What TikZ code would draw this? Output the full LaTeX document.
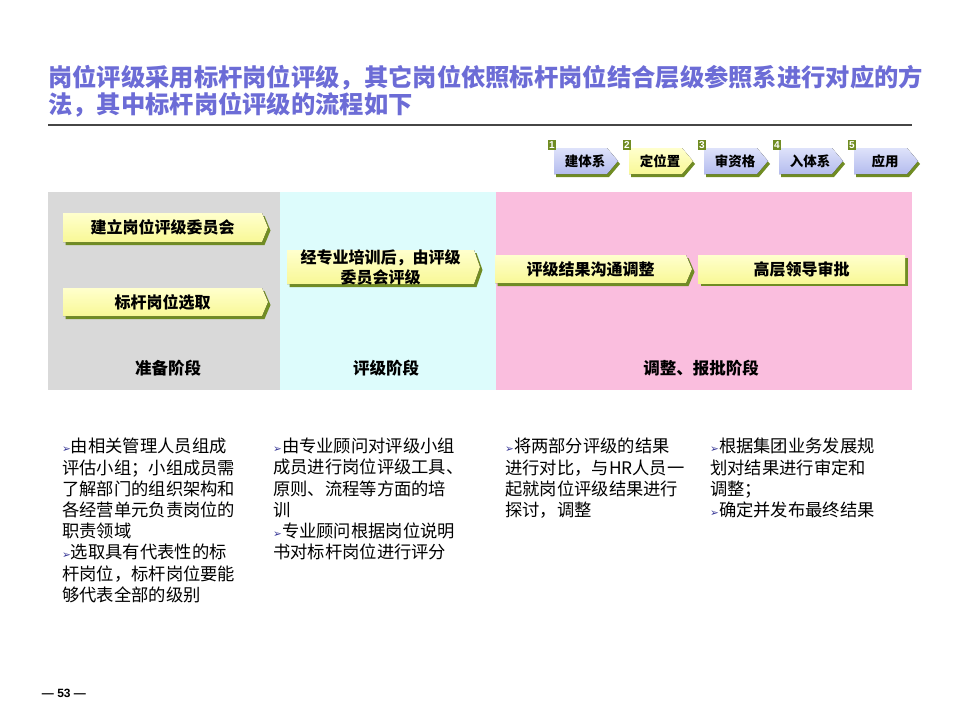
\documentclass[tikz,border=0pt]{standalone}
\usepackage{fontspec}
\setmainfont{Noto Sans CJK SC}
\newfontfamily\lat{Liberation Sans}
\newfontfamily\dv{DejaVu Sans}
\definecolor{titleblue}{RGB}{108,108,214}
\definecolor{rulegray}{RGB}{70,70,70}
\definecolor{pgray}{RGB}{217,217,217}
\definecolor{pcyan}{RGB}{221,252,252}
\definecolor{ppink}{RGB}{250,190,222}
\definecolor{boxy}{RGB}{248,248,150}
\definecolor{boxyl}{RGB}{255,255,205}
\definecolor{shgreen}{RGB}{112,140,35}
\definecolor{lav}{RGB}{180,188,238}
\definecolor{lavl}{RGB}{222,226,250}
\definecolor{bullc}{RGB}{55,55,150}
\newcommand\bul{{\textcolor{bullc}{\dv\fontsize{10.5}{10}\selectfont ➢}}}
\newcommand\tipbox[6]{%
  \begin{scope}[shift={(2.5,3)}]
    \fill[shgreen] (#2,#3) -- (#4-6,#3) -- (#4,{(#3+#5)/2}) -- (#4-6,#5) -- (#2,#5) -- cycle;
  \end{scope}
  \fill[ybox] (#2,#3) -- (#4-6,#3) -- (#4,{(#3+#5)/2}) -- (#4-6,#5) -- (#2,#5) -- cycle;
  \node[boxtxt] (#1) at ({(#2+#4)/2-3},{(#3+#5)/2}) {#6};
}
\newcommand\flatbox[6]{%
  \begin{scope}[shift={(2.5,3)}]
    \fill[shgreen] (#2,#3) rectangle (#4,#5);
  \end{scope}
  \fill[ybox] (#2,#3) rectangle (#4,#5);
  \node[boxtxt] (#1) at ({(#2+#4)/2},{(#3+#5)/2}) {#6};
}
\newcommand\stepchev[5]{% name, x0, digit, text, fill style
  \begin{scope}[shift={(2,3)}]
    \fill[shgreen] (#2,148) -- (#2+53,148) -- (#2+64,161) -- (#2+53,174) -- (#2,174) -- cycle;
  \end{scope}
  \fill[#5] (#2,148) -- (#2+53,148) -- (#2+64,161) -- (#2+53,174) -- (#2,174) -- cycle;
  \node[steptxt] (#1) at (#2+31,161) {#4};
  \node[numbox] (#1n) at (#2-2,145) {#3};
}
\tikzset{
  ttl/.style={anchor=north west, inner sep=0, align=left, text=titleblue,
    font=\bfseries\fontsize{24.3}{27.5}\selectfont},
  boxtxt/.style={inner sep=0, align=center, font=\bfseries\fontsize{16}{20}\selectfont},
  steptxt/.style={inner sep=0, font=\bfseries\fontsize{13.5}{15}\selectfont},
  stagetxt/.style={inner sep=0, font=\bfseries\fontsize{16.5}{18}\selectfont},
  body/.style={anchor=north west, inner sep=0, align=left,
    font=\fontsize{17.3}{21.2}\selectfont},
  numbox/.style={fill=shgreen, text=white, inner sep=0pt, minimum width=8.5pt,
    minimum height=10.5pt, font=\lat\bfseries\fontsize{10}{10}\selectfont},
  ybox/.style={top color=boxyl, bottom color=boxy},
  lavbox/.style={top color=lavl, bottom color=lav},
}
\begin{document}
\begin{tikzpicture}[x=1pt,y=-1pt]
\useasboundingbox (0,0) rectangle (960,720);
\fill[white] (0,0) rectangle (960,720);
% title
\node[ttl] (title) at (48,65) {岗位评级采用标杆岗位评级，其它岗位依照标杆岗位结合层级参照系进行对应的方\\法，其中标杆岗位评级的流程如下};
\draw[line width=1.3pt, rulegray] (48,125) -- (912,125);
% steps
\stepchev{s1}{554}{1}{建体系}{lavbox}
\stepchev{s2}{629}{2}{定位置}{ybox}
\stepchev{s3}{704}{3}{审资格}{lavbox}
\stepchev{s4}{779}{4}{入体系}{lavbox}
\stepchev{s5}{854}{5}{应用}{lavbox}
% panels
\fill[pgray] (48,192) rectangle (280,390);
\fill[pcyan] (280,192) rectangle (496,390);
\fill[ppink] (496,192) rectangle (912,390);
% boxes
\tipbox{b1}{63}{213}{268}{242}{建立岗位评级委员会}
\tipbox{b2}{63}{288}{268}{316}{标杆岗位选取}
\tipbox{b3}{287}{250}{480}{284}{经专业培训后，由评级\\委员会评级}
\tipbox{b4}{495}{255}{692}{283}{评级结果沟通调整}
\flatbox{b5}{698}{255}{905}{283}{高层领导审批}
% stage labels
\node[stagetxt] (st1) at (168,368) {准备阶段};
\node[stagetxt] (st2) at (386,368) {评级阶段};
\node[stagetxt] (st3) at (701,368) {调整、报批阶段};
% body texts
\node[body] (t1) at (62,438) {\bul 由相关管理人员组成\\评估小组；小组成员需\\了解部门的组织架构和\\各经营单元负责岗位的\\职责领域\\\bul 选取具有代表性的标\\杆岗位，标杆岗位要能\\够代表全部的级别};
\node[body] (t2) at (273,438) {\bul 由专业顾问对评级小组\\成员进行岗位评级工具、\\原则、流程等方面的培\\训\\\bul 专业顾问根据岗位说明\\书对标杆岗位进行评分};
\node[body] (t3) at (505,438) {\bul 将两部分评级的结果\\进行对比，与HR人员一\\起就岗位评级结果进行\\探讨，调整};
\node[body] (t4) at (710,438) {\bul 根据集团业务发展规\\划对结果进行审定和\\调整；\\\bul 确定并发布最终结果};
% page number
\node[inner sep=0, font=\lat\bfseries\fontsize{12}{14}\selectfont] (pg) at (64,693) {— 53 —};
\end{tikzpicture}
\end{document}
